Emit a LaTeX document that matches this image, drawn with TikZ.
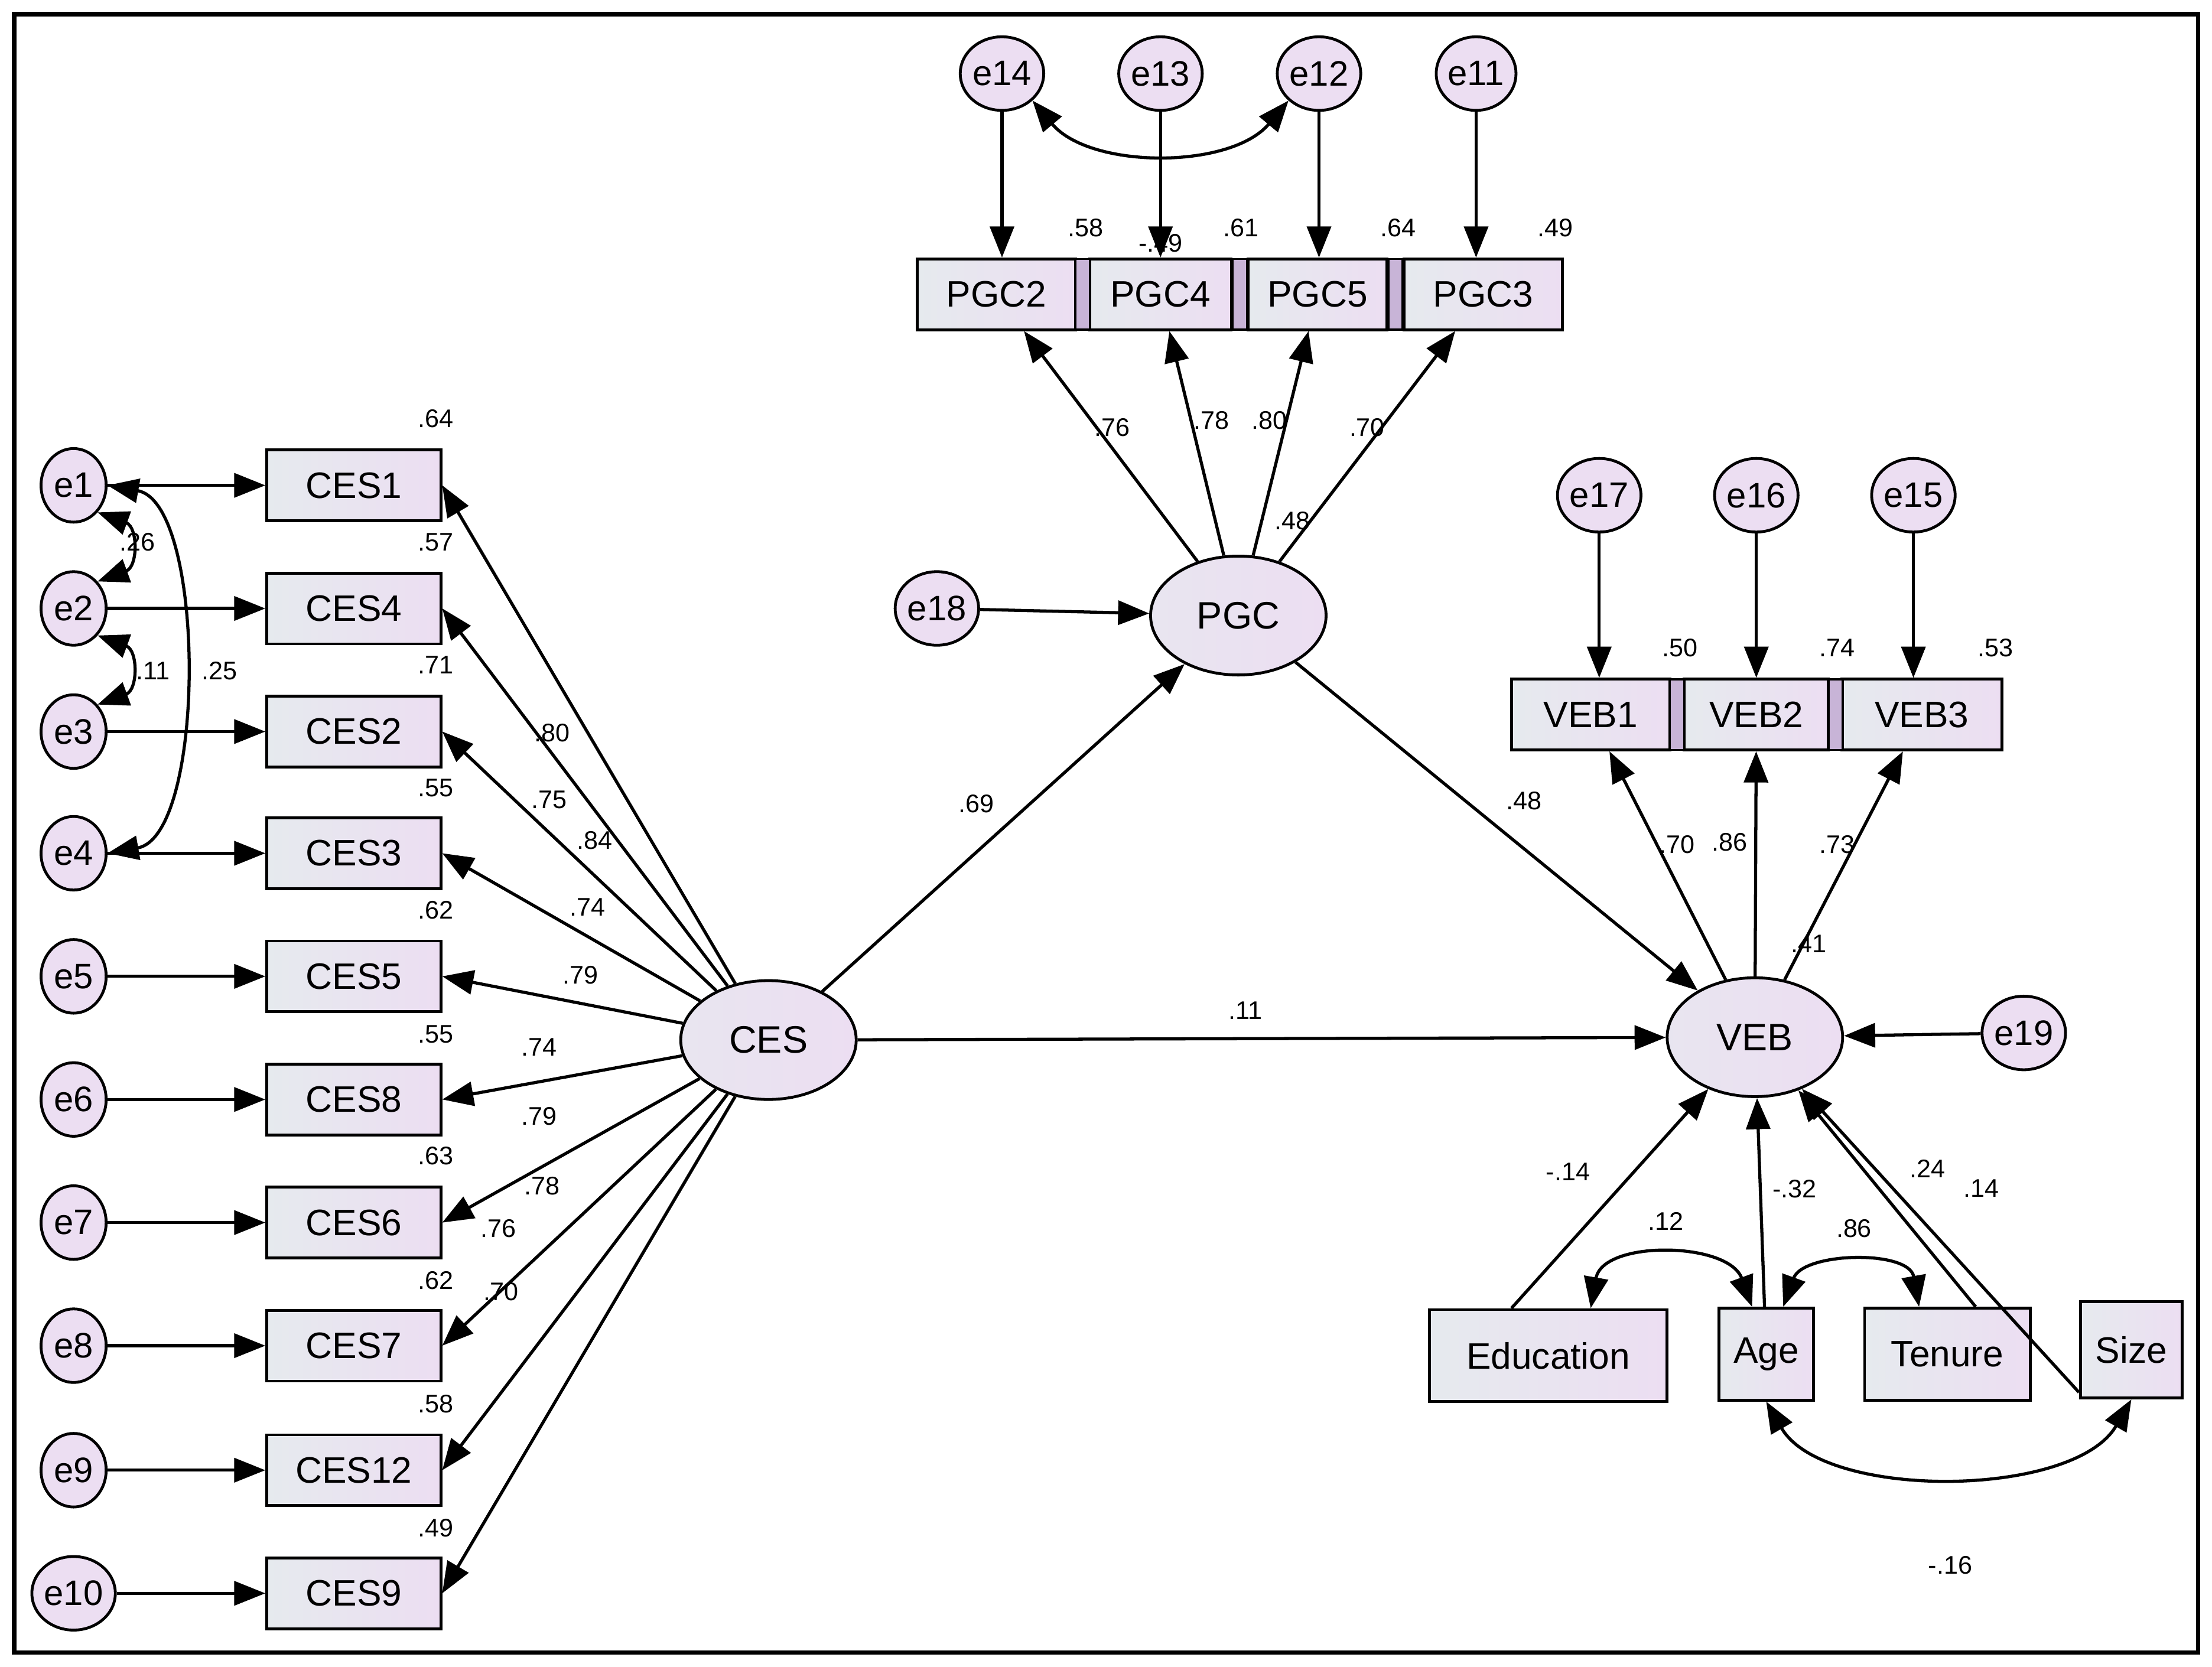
\documentclass[tikz,border=0pt]{standalone}
\usepackage{fontspec}
\setmainfont{Liberation Sans}
\usetikzlibrary{shapes.geometric,arrows.meta}
\definecolor{lav}{RGB}{236,222,242}
\definecolor{lavg}{RGB}{230,234,238}
\definecolor{lavd}{RGB}{200,180,215}
\tikzset{x=1pt,y=-1pt,
 ln/.style={line width=2.2pt},
 ar/.style={ln,-{Triangle[length=22pt,width=17pt]}},
 cv/.style={ln,{Triangle[length=22pt,width=17pt]}-{Triangle[length=22pt,width=17pt]}},
 box/.style={draw,line width=2pt,minimum height=50pt,inner sep=0pt,left color=lavg,right color=lav,font=\fontsize{26}{28}\selectfont},
 err/.style={ellipse,draw,line width=2pt,minimum width=46pt,minimum height=52pt,inner sep=0pt,fill=lav,font=\fontsize{25}{27}\selectfont},
 lat/.style={ellipse,draw,line width=2pt,minimum width=124pt,minimum height=84pt,left color=lavg!60!lav,right color=lav,font=\fontsize{27}{29}\selectfont},
 lb/.style={font=\fontsize{18}{20}\selectfont,inner sep=0pt},
 strip/.style={draw,line width=1.5pt,fill=lavd,minimum width=10pt,minimum height=50pt,inner sep=0pt}}
\begin{document}
\begin{tikzpicture}
\path[use as bounding box] (0,0) rectangle (1563,1178);
\draw[line width=3pt] (10,10) rectangle (1553,1168);
% left side
\foreach \i/\n/\y in {1/CES1/343,2/CES4/430,3/CES2/517,4/CES3/603,5/CES5/690,6/CES8/777,7/CES6/864,8/CES7/951,9/CES12/1039,10/CES9/1126}{
 \node[err] (e\i) at (52,\y) {e\i};
 \node[box,minimum width=123pt] (c\i) at (250,\y) {\n};
 \draw[ar] (e\i) -- (c\i);
}
\node[lat] (ces) at (543,735) {CES};
\node[lat] (pgc) at (875,435) {PGC};
\node[lat] (veb) at (1240,733) {VEB};
\node[err] (e18) at (662,430) {e18};
\node[err] (e19) at (1430,730) {e19};
\foreach \i in {1,...,10}{\draw[ar] (ces) -- (c\i.east);}
\draw[ar] (ces) -- (pgc);
\draw[ar] (pgc) -- (veb);
\draw[ar] (ces) -- (veb);
\draw[ar] (e18) -- (pgc);
\draw[ar] (e19) -- (veb);
% covariances left
\draw[cv] (e1.south east) to[out=-20,in=20,looseness=1.6] (e2.north east);
\draw[cv] (e2.south east) to[out=-20,in=20,looseness=1.6] (e3.north east);
\draw[cv] (e1.east) to[out=-10,in=10,looseness=0.7] (e4.east);
% PGC indicators
\node[box,minimum width=112pt] (p2) at (704,208) {PGC2};
\node[box,minimum width=100pt] (p4) at (820,208) {PGC4};
\node[box,minimum width=98pt] (p5) at (931,208) {PGC5};
\node[box,minimum width=112pt] (p3) at (1048,208) {PGC3};
\node[strip] at (765,208) {};
\node[strip] at (876,208) {};
\node[strip] at (986,208) {};
\node[err] (e14) at (708,52) {e14};
\node[err] (e13) at (820,52) {e13};
\node[err] (e12) at (932,52) {e12};
\node[err] (e11) at (1043,52) {e11};
\draw[ar] (e14) -- (e14|-p2.north);
\draw[ar] (e13) -- (p4);
\draw[ar] (e12) -- (e12|-p5.north);
\draw[ar] (e11) -- (e11|-p3.north);
\draw[cv] (e14.south east) to[out=-50,in=-130,looseness=0.9] (e12.south west);
\foreach \p in {p2,p4,p5,p3}{\draw[ar] (pgc) -- (\p);}
% VEB indicators
\node[box,minimum width=112pt] (v1) at (1124,505) {VEB1};
\node[box,minimum width=102pt] (v2) at (1241,505) {VEB2};
\node[box,minimum width=113pt] (v3) at (1358,505) {VEB3};
\node[strip] at (1185,505) {};
\node[strip] at (1297,505) {};
\node[err] (e17) at (1130,350) {e17};
\node[err] (e16) at (1241,350) {e16};
\node[err] (e15) at (1352,350) {e15};
\draw[ar] (e17) -- (e17|-v1.north);
\draw[ar] (e16) -- (v2);
\draw[ar] (e15) -- (e15|-v3.north);
\foreach \v in {v1,v2,v3}{\draw[ar] (veb) -- (\v);}
% controls
\node[box,minimum width=168pt,minimum height=65pt] (edu) at (1094,958) {Education};
\node[box,minimum width=67pt,minimum height=65pt] (age) at (1248,957) {Age};
\node[box,minimum width=117pt,minimum height=65pt] (ten) at (1376,957) {Tenure};
\node[box,minimum width=72pt,minimum height=68pt] (size) at (1506,954) {Size};
\draw[ar] ([xshift=-26pt]edu.north) -- (veb);
\draw[ar] (age) -- (veb);
\draw[ar] ([xshift=20pt]ten.north) -- (veb);
\draw[ar] ([yshift=-30pt]size.west) -- (veb);
\draw[cv] ([xshift=30pt]edu.north) to[out=80,in=110,looseness=1.1] ([xshift=-10pt]age.north);
\draw[cv] ([xshift=12pt]age.north) to[out=70,in=100,looseness=1.1] ([xshift=-20pt]ten.north);
\draw[cv] (age.south) to[out=-60,in=-120,looseness=0.8] (size.south);
% labels
\foreach \t/\x/\y in {.64/308/296,.57/308/383,.71/308/470,.55/308/557,.62/308/643,.55/308/731,.63/308/817,.62/308/905,.58/308/992,.49/308/1080,
 .80/390/518,.75/388/565,.84/420/594,.74/415/641,.79/410/689,.74/381/740,.79/381/789,.78/383/838,.76/352/868,.70/354/913,
 .26/97/383,.11/108/474,.25/155/474,.69/690/568,.11/880/714,.48/1077/566,.48/913/368,
 .76/786/302,.78/856/297,.80/897/297,.70/966/302,.58/767/161,-.49/820/172,.61/877/161,.64/988/161,.49/1099/161,
 .50/1187/458,.74/1298/458,.53/1410/458,.70/1185/597,.86/1222/595,.73/1298/597,.41/1278/667,
 -.14/1108/828,.12/1177/863,-.32/1268/840,.86/1310/868,.24/1362/826,.14/1400/840,-.16/1378/1106}
 {\node[lb] at (\x,\y) {\t};}
\end{tikzpicture}
\end{document}
